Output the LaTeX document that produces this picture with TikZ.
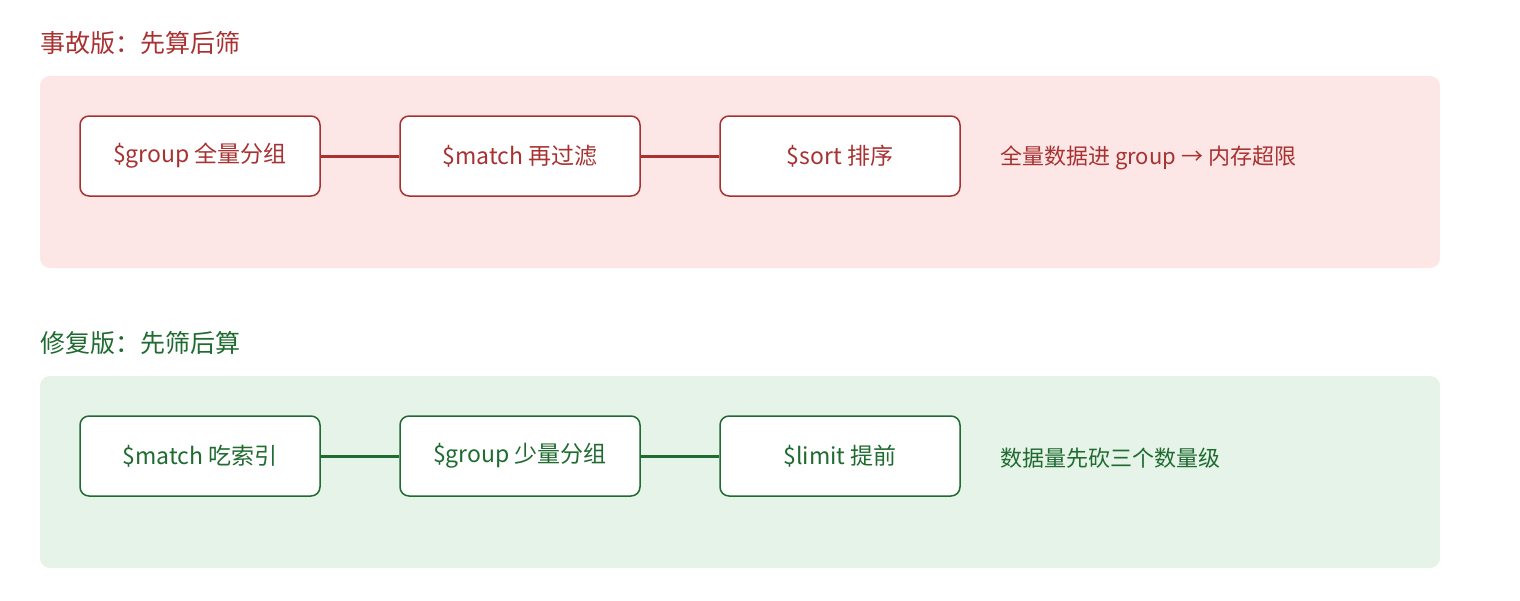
\documentclass[tikz,border=0pt]{standalone}
\usepackage{fontspec}
\setmainfont{Noto Sans CJK SC}
\definecolor{rd}{HTML}{A83232}
\definecolor{rdbg}{HTML}{FCE7E6}
\definecolor{gn}{HTML}{1F6B30}
\definecolor{gnbg}{HTML}{E6F3E8}
\begin{document}
\begin{tikzpicture}[x=1pt,y=-1pt,
  panel/.style={rounded corners=10pt},
  box/.style={draw,fill=white,line width=1.5pt,rounded corners=9pt,minimum width=240pt,minimum height=80pt,font=\fontsize{23}{26}\selectfont,inner sep=0pt},
  conn/.style={line width=3pt},
  title/.style={anchor=west,font=\fontsize{25}{28}\selectfont,inner sep=0pt},
  note/.style={anchor=west,font=\fontsize{22}{26}\selectfont,inner sep=0pt}]
\useasboundingbox (0,0) rectangle (1520,600);
% red
\node[title,text=rd] (t1) at (40,43) {事故版：先算后筛};
\fill[rdbg,panel] (40,76) rectangle (1440,268);
\begin{scope}[every node/.style={box,draw=rd,text=rd}]
\node (a1) at (200,156) {\$group 全量分组};
\node (a2) at (520,156) {\$match 再过滤};
\node (a3) at (840,156) {\$sort 排序};
\end{scope}
\draw[conn,rd] (a1) -- (a2);
\draw[conn,rd] (a2) -- (a3);
\node[note,text=rd] (n1) at (1000,158) {全量数据进 group → 内存超限};
% green
\node[title,text=gn] (t2) at (40,343) {修复版：先筛后算};
\fill[gnbg,panel] (40,376) rectangle (1440,568);
\begin{scope}[every node/.style={box,draw=gn,text=gn}]
\node (b1) at (200,456) {\$match 吃索引};
\node (b2) at (520,456) {\$group 少量分组};
\node (b3) at (840,456) {\$limit 提前};
\end{scope}
\draw[conn,gn] (b1) -- (b2);
\draw[conn,gn] (b2) -- (b3);
\node[note,text=gn] (n2) at (1000,458) {数据量先砍三个数量级};
\end{tikzpicture}
\end{document}
